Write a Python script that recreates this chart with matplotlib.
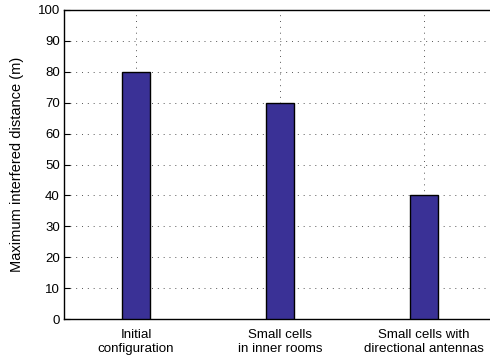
import numpy as np
import matplotlib.pyplot as plt

plt.rcParams['font.family'] = ['Liberation Sans', 'DejaVu Sans']

# Data
categories = ["Initial\nconfiguration", "Small cells\nin inner rooms", "Small cells with\ndirectional antennas"]
max_distance = [80, 70, 40]  # m

fig = plt.figure(figsize=(4.9, 3.61), dpi=100)
ax = fig.add_axes([64 / 490, 42 / 361, 432 / 490, 309 / 361])

x = np.arange(1, len(categories) + 1)
ax.bar(x, max_distance, width=0.2, color='#3a3196', edgecolor='black', linewidth=1.0, zorder=3)

ax.set_xlim(0.5, 3.5)
ax.set_ylim(0, 100)
ax.set_xticks(x)
ax.set_xticklabels(categories, fontsize=9.6, linespacing=1.15)
ax.set_yticks(np.arange(0, 101, 10))
ax.tick_params(axis='y', labelsize=9.5, direction='in', length=4, pad=3)
ax.tick_params(axis='x', direction='in', length=4, pad=7.5)
ax.grid(True, linestyle=(0, (1, 5)), color='#555555', linewidth=0.7, zorder=0)
ax.set_ylabel("Maximum interfered distance (m)", fontsize=10.5, labelpad=10)
for s in ax.spines.values():
    s.set_linewidth(1.0)

fig.savefig("out.png", dpi=100)
